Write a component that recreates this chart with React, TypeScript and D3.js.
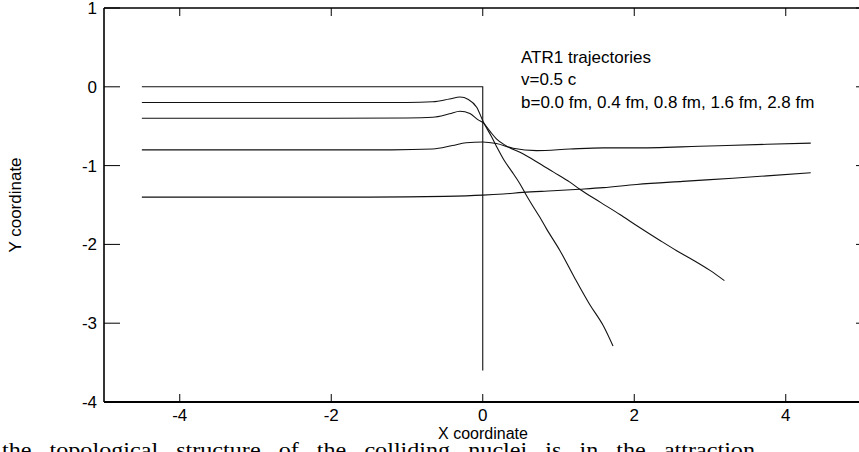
import React, { useEffect, useRef } from "react";
import * as d3 from "d3";

const W = 859;
const H = 452;

const xTicks = [-4, -2, 0, 2, 4];
const yTicks = [-4, -3, -2, -1, 0, 1];
const impactParams = ["0.0", "0.4", "0.8", "1.6", "2.8"];

const trajB00: [number, number][] = [
  [-4.5, 0], [0, 0], [0, -3.6],
];
const trajB04: [number, number][] = [
  [-4.5, -0.2], [-2, -0.2], [-1, -0.2], [-0.66, -0.19], [-0.44, -0.155], [-0.3, -0.13],
  [-0.19, -0.16], [-0.08, -0.26], [0.01, -0.45], [0.12, -0.64], [0.2, -0.79], [0.28, -0.93],
  [0.38, -1.07], [0.49, -1.23], [0.56, -1.35], [0.64, -1.48], [0.75, -1.65], [0.84, -1.8],
  [1.02, -2.08], [1.21, -2.42], [1.41, -2.76], [1.59, -3.03], [1.72, -3.29],
];
const trajB08: [number, number][] = [
  [-4.5, -0.4], [-2, -0.4], [-1, -0.395], [-0.66, -0.386], [-0.44, -0.343], [-0.3, -0.31],
  [-0.17, -0.34], [-0.06, -0.42], [0.01, -0.46], [0.1, -0.57], [0.18, -0.66], [0.31, -0.75],
  [0.53, -0.85], [0.71, -0.95], [0.93, -1.08], [1.15, -1.21], [1.28, -1.3], [1.56, -1.47],
  [1.81, -1.62], [2.03, -1.76], [2.34, -1.95], [2.56, -2.08], [2.78, -2.2], [3.0, -2.33],
  [3.19, -2.46],
];
const trajB16: [number, number][] = [
  [-4.5, -0.8], [-1.2, -0.8], [-0.66, -0.79], [-0.4, -0.745], [-0.22, -0.71], [0, -0.7],
  [0.18, -0.72], [0.4, -0.78], [0.71, -0.81], [1.15, -0.79], [1.59, -0.775], [1.98, -0.775],
  [2.86, -0.755], [3.22, -0.745], [3.75, -0.73], [4.33, -0.715],
];
const trajB28: [number, number][] = [
  [-4.5, -1.4], [-1.5, -1.4], [-0.5, -1.39], [0, -1.375], [0.27, -1.36], [0.53, -1.34],
  [0.93, -1.32], [1.28, -1.3], [1.59, -1.28], [2.03, -1.24], [2.64, -1.2], [3.3, -1.16],
  [3.75, -1.13], [4.33, -1.09],
];
const trajectories = [trajB00, trajB04, trajB08, trajB16, trajB28];

const annotation = [
  "ATR1 trajectories",
  "v=0.5 c",
  "b=" + impactParams.map((b) => b + " fm").join(", "),
];
const footerText = "the topological structure of the colliding nuclei is in the attraction";

export default function App() {
  const footerRef = useRef<SVGTextElement | null>(null);
  const left = 104;
  const top = 8;
  const bottom = 402;
  const right = 872;
  const x = d3.scaleLinear().domain([-5, 5]).range([left, 861.5]);
  const y = d3.scaleLinear().domain([-4, 1]).range([bottom, top]);
  const footerStretch = 1.15;
  const footerEnd = 755;

  useEffect(() => {
    const el = footerRef.current;
    if (!el) return;
    const len = el.getComputedTextLength();
    const spaces = footerText.split(" ").length - 1;
    const target = (footerEnd - 2) / footerStretch;
    const extra = Math.max(0, (target - len) / spaces);
    el.setAttribute("word-spacing", String(extra));
  }, []);

  const lineLinear = d3
    .line<[number, number]>()
    .x((d) => x(d[0]))
    .y((d) => y(d[1]));
  const lineSmooth = d3
    .line<[number, number]>()
    .x((d) => x(d[0]))
    .y((d) => y(d[1]))
    .curve(d3.curveMonotoneX);

  const font = "'Liberation Sans', Arial, sans-serif";

  return (
    <svg
      width={W}
      height={H}
      style={{ position: "fixed", left: 0, top: 0, background: "#fff" }}
    >
      <rect x={0} y={0} width={W} height={H} fill="#fff" />
      {/* frame */}
      <line x1={left} x2={left} y1={top} y2={bottom} stroke="#000" strokeWidth={1.6} />
      <line x1={left} x2={right} y1={top} y2={top} stroke="#000" strokeWidth={1.4} />
      <line x1={left} x2={right} y1={bottom} y2={bottom} stroke="#000" strokeWidth={2} />
      <line x1={right} x2={right} y1={top} y2={bottom} stroke="#000" strokeWidth={1.4} />

      {/* x ticks */}
      {xTicks.map((t) => (
        <g key={"x" + t}>
          <line x1={x(t)} x2={x(t)} y1={bottom} y2={bottom - 8} stroke="#000" strokeWidth={1} />
          <line x1={x(t)} x2={x(t)} y1={top} y2={top + 8} stroke="#000" strokeWidth={1} />
          <text
            x={x(t)}
            y={421}
            textAnchor="middle"
            fontFamily={font}
            fontSize={17}
            fill="#000"
          >
            {t}
          </text>
        </g>
      ))}
      {/* y ticks */}
      {yTicks.map((t) => (
        <g key={"y" + t}>
          <line x1={left} x2={left + 16} y1={y(t)} y2={y(t)} stroke="#000" strokeWidth={1} />
          <line x1={right - 16} x2={right} y1={y(t)} y2={y(t)} stroke="#000" strokeWidth={1} />
          <text
            x={97}
            y={y(t) + 6}
            textAnchor="end"
            fontFamily={font}
            fontSize={17}
            fill="#000"
          >
            {t}
          </text>
        </g>
      ))}

      {/* axis titles */}
      <text x={483} y={439} textAnchor="middle" fontFamily={font} fontSize={16} fill="#000">
        X coordinate
      </text>
      <text
        transform="translate(21,205) rotate(-90)"
        textAnchor="middle"
        fontFamily={font}
        fontSize={17}
        fill="#000"
      >
        Y coordinate
      </text>

      {/* trajectories */}
      {trajectories.map((tr, i) => (
        <path
          key={"t" + i}
          d={(i === 0 ? lineLinear(tr) : lineSmooth(tr)) || ""}
          fill="none"
          stroke="#111"
          strokeWidth={1.1}
        />
      ))}

      {/* annotation */}
      {annotation.map((s, i) => (
        <text
          key={"a" + i}
          x={521}
          y={[63, 85, 108][i]}
          fontFamily={font}
          fontSize={17}
          fill="#000"
        >
          {s}
        </text>
      ))}

      {/* cut-off body text from the page below the figure */}
      <g transform={`scale(${footerStretch},1)`}>
        <text
          ref={footerRef}
          x={2 / footerStretch}
          y={457}
          fontFamily="'Liberation Serif', 'DejaVu Serif', serif"
          fontSize={21}
          fill="#000"
        >
          {footerText}
        </text>
      </g>
    </svg>
  );
}
